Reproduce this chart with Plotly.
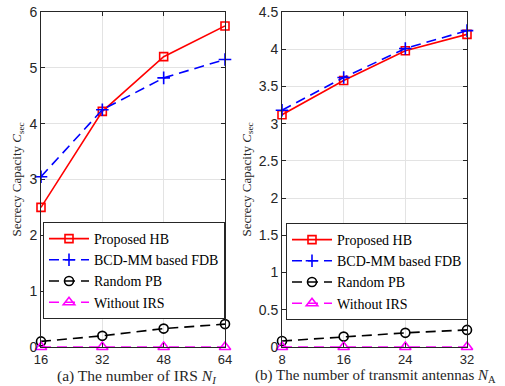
import plotly.graph_objects as go

# ---- data ----
n_irs = [16, 32, 48, 64]
hb_a = [2.50, 4.22, 5.20, 5.75]
bcd_a = [3.05, 4.25, 4.82, 5.15]
rpb_a = [0.10, 0.20, 0.33, 0.41]
wo_a = [0.0, 0.0, 0.0, 0.0]

n_ant = [8, 16, 24, 32]
hb_b = [3.12, 3.58, 3.98, 4.20]
bcd_b = [3.18, 3.62, 4.01, 4.25]
rpb_b = [0.08, 0.14, 0.19, 0.23]
wo_b = [0.0, 0.0, 0.0, 0.0]

names = ["Proposed HB", "BCD-MM based FDB", "Random PB", "Without IRS"]
colors = ["#ff0000", "#0000ff", "#000000", "#ff00ff"]
symbols = ["square-open", "cross-thin-open", "circle-open", "triangle-up-open"]
sizes = [8, 9, 9, 10]
dashes = ["solid", "10px,6px", "10px,6px", "10px,6px"]

SERIF = "Liberation Serif, Times New Roman, serif"
SANS = "Liberation Sans, Arial, sans-serif"

fig = go.Figure()

def add_series(x, ys, xa, ya, leg):
    for name, y, c, s, sz, d in zip(names, ys, colors, symbols, sizes, dashes):
        fig.add_trace(go.Scatter(
            x=x, y=y, name=name, mode="lines+markers",
            line=dict(color=c, width=1.6, dash=d),
            marker=dict(symbol=s, size=sz, color=c, line=dict(color=c, width=1.6)),
            xaxis=xa, yaxis=ya, legend=leg, cliponaxis=False,
        ))

add_series(n_irs, [hb_a, bcd_a, rpb_a, wo_a], "x", "y", "legend")
add_series(n_ant, [hb_b, bcd_b, rpb_b, wo_b], "x2", "y2", "legend2")

W, H = 505, 386
def fx(px): return px / W
def fy(py): return 1 - py / H

axis_common = dict(
    showline=True, linecolor="#262626", linewidth=1, mirror="ticks",
    ticks="inside", ticklen=4, tickcolor="#262626",
    showgrid=True, gridcolor="#e3e3e3", gridwidth=1, zeroline=False,
    tickfont=dict(family=SANS, size=14, color="#262626"),
    automargin=False,
)
xtickfont = dict(family=SANS, size=13, color="#262626")

ytitle = dict(text="Secrecy Capacity <i>C</i><sub>sec</sub>", font=dict(family=SERIF, size=13, color="#262626"), standoff=4)

x_common = {k: v for k, v in axis_common.items() if k != "tickfont"}

fig.update_layout(
    width=W, height=H, margin=dict(l=0, r=0, t=0, b=0),
    paper_bgcolor="white", plot_bgcolor="white",
    xaxis=dict(domain=[fx(41), fx(225)], range=[16, 64], tickvals=n_irs, anchor="y",
               ticklabelstandoff=0, tickfont=xtickfont, **x_common),
    yaxis=dict(domain=[fy(347), fy(12)], range=[0, 6], tickvals=[0, 1, 2, 3, 4, 5, 6], anchor="x",
               title=ytitle, **axis_common),
    xaxis2=dict(domain=[fx(282), fx(467)], range=[8, 32], tickvals=n_ant, anchor="y2",
                ticklabelstandoff=0, tickfont=xtickfont, **x_common),
    yaxis2=dict(domain=[fy(347), fy(12)], range=[0, 4.5], tickvals=[0, 0.5, 1, 1.5, 2, 2.5, 3, 3.5, 4, 4.5],
                ticktext=["0", "0.5", "1", "1.5", "2", "2.5", "3", "3.5", "4", "4.5"], anchor="x2",
                title=ytitle, **axis_common),
    legend=dict(x=fx(43), y=fy(222), xanchor="left", yanchor="top",
                bgcolor="white", bordercolor="#262626", borderwidth=1,
                font=dict(family=SERIF, size=14, color="black"), tracegroupgap=0, itemwidth=40),
    legend2=dict(x=fx(286), y=fy(223), xanchor="left", yanchor="top",
                 bgcolor="white", bordercolor="#262626", borderwidth=1,
                 font=dict(family=SERIF, size=14, color="black"), tracegroupgap=0, itemwidth=40),
    annotations=[
        dict(text="(a) The number of IRS <i>N</i><sub><i>I</i></sub>", x=fx(137), y=fy(376),
             xref="paper", yref="paper", showarrow=False, xanchor="center", yanchor="middle",
             font=dict(family=SERIF, size=15.5, color="#262626")),
        dict(text="(b) The number of transmit antennas <i>N</i><sub>A</sub>", x=fx(375), y=fy(376),
             xref="paper", yref="paper", showarrow=False, xanchor="center", yanchor="middle",
             font=dict(family=SERIF, size=15, color="#262626")),
    ],
)

fig.write_html("out.html", config={"displayModeBar": False},
               post_script="document.body.style.margin='0';document.body.style.overflow='hidden';")
